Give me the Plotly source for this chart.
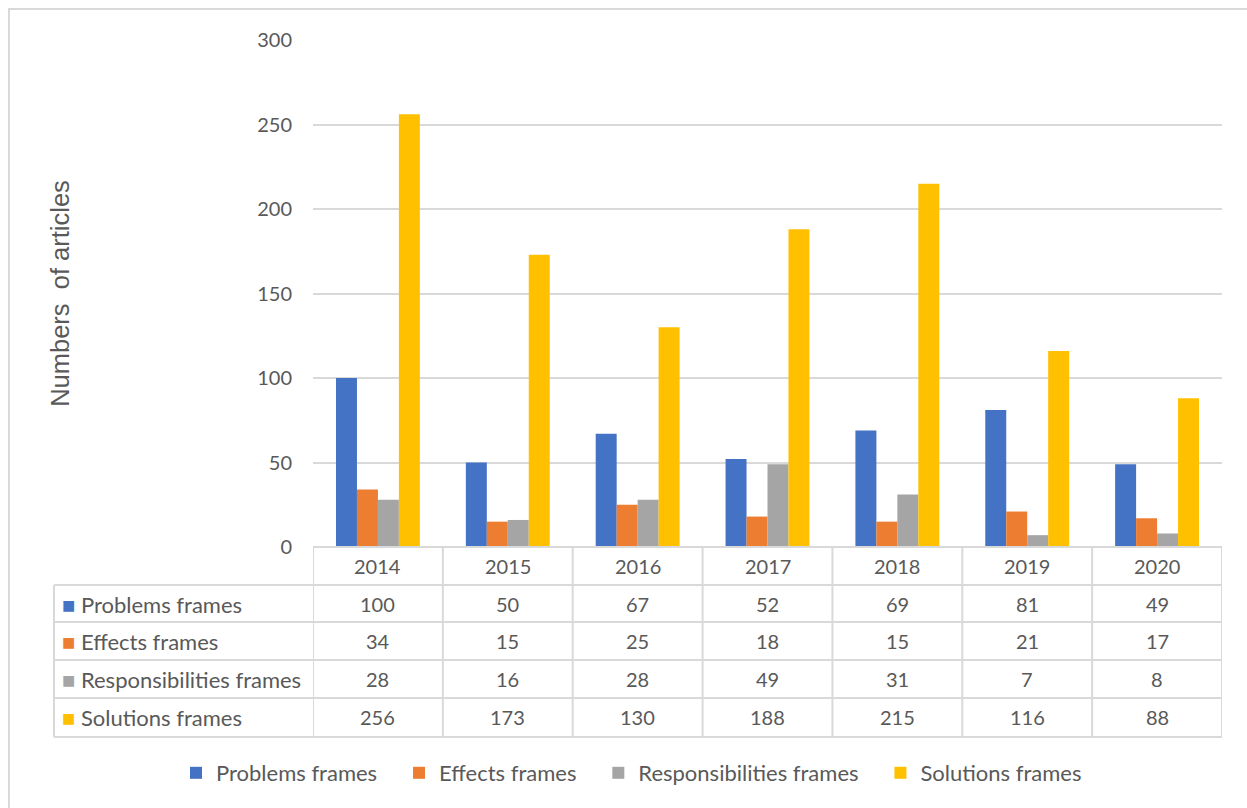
import plotly.graph_objects as go

years = ["2014", "2015", "2016", "2017", "2018", "2019", "2020"]
problems = [100, 50, 67, 52, 69, 81, 49]
effects = [34, 15, 25, 18, 15, 21, 17]
responsibilities = [28, 16, 28, 49, 31, 7, 8]
solutions = [256, 173, 130, 188, 215, 116, 88]

series_names = ["Problems frames", "Effects frames", "Responsibilities frames", "Solutions frames"]
series_values = [problems, effects, responsibilities, solutions]
colors = ["#4472C4", "#ED7D31", "#A5A5A5", "#FFC000"]

W, H = 1247, 808
ML, MR, MT, MB = 313, 25, 40, 261
PH = H - MT - MB
PW = W - ML - MR

def py(p):
    return (H - MB - p) / PH

def px(p):
    return (p - ML) / PW

GRID = "#d9d9d9"
TXT = "#595959"
FONT = "Lato"
NBSP = "\u00a0"

fig = go.Figure()
for name, vals, c in zip(series_names, series_values, colors):
    fig.add_trace(go.Bar(x=years, y=vals, name=name + NBSP * 3,
                         marker=dict(color=c, line=dict(width=0))))

shapes = []
annotations = []

# table horizontal lines
row_lines = [547, 585, 622, 660, 698, 737]
for i, yl in enumerate(row_lines):
    x0 = 0 if i == 0 else px(54)
    shapes.append(dict(type="line", xref="paper", yref="paper", x0=x0, x1=1, y0=py(yl), y1=py(yl),
                       line=dict(color=GRID, width=2)))
# vertical lines at category boundaries
for k in range(len(years) + 1):
    shapes.append(dict(type="line", xref="x", yref="paper", x0=k - 0.5, x1=k - 0.5,
                       y0=py(547), y1=py(737), line=dict(color=GRID, width=2)))
# left edge of table labels column
shapes.append(dict(type="line", xref="paper", yref="paper", x0=px(54), x1=px(54),
                   y0=py(585), y1=py(737), line=dict(color=GRID, width=2)))
# outer chart border (only top & left visible)
shapes.append(dict(type="rect", xref="paper", yref="paper", x0=px(9), x1=px(1265), y0=py(9), y1=py(830),
                   line=dict(color=GRID, width=2), fillcolor="rgba(0,0,0,0)", layer="below"))

# year row
for i, yr in enumerate(years):
    annotations.append(dict(x=i, y=py(566), xref="x", yref="paper", text=yr, showarrow=False,
                            xanchor="center", yanchor="middle",
                            font=dict(family=FONT, size=20, color=TXT)))
row_centers = [604, 641, 679, 717]
for name, vals, c, rc in zip(series_names, series_values, colors, row_centers):
    annotations.append(dict(x=px(60), y=py(rc), xref="paper", yref="paper", xanchor="left",
                            yanchor="middle",
                            text=f"<span style='color:{c};font-size:22px'>■</span> {name}", showarrow=False,
                            font=dict(family=FONT, size=22, color=TXT)))
    for i, v in enumerate(vals):
        annotations.append(dict(x=i, y=py(rc), xref="x", yref="paper", text=str(v), showarrow=False,
                                xanchor="center", yanchor="middle",
                                font=dict(family=FONT, size=20, color=TXT)))

fig.update_layout(
    width=W, height=H,
    margin=dict(l=ML, r=MR, t=MT, b=MB, autoexpand=False),
    paper_bgcolor="white", plot_bgcolor="white",
    barmode="group", bargap=0.354, bargroupgap=0,
    font=dict(family=FONT, color=TXT),
    xaxis=dict(type="category", range=[-0.5, 6.5], showticklabels=False, showgrid=False,
               zeroline=False, showline=False, ticks=""),
    yaxis=dict(range=[0, 300], dtick=50, showgrid=True, gridcolor=GRID, gridwidth=2,
               zeroline=False, showline=False, ticks="", ticklabelstandoff=20,
               tickfont=dict(family=FONT, size=20, color=TXT), automargin=False,
               title=dict(text="Numbers&nbsp; of articles", standoff=180,
                          font=dict(family="Liberation Sans", size=25.5, color=TXT))),
    legend=dict(orientation="h", x=px(176), xanchor="left", y=py(773), yanchor="middle",
                font=dict(family=FONT, size=22, color=TXT), itemwidth=30,
                bgcolor="rgba(0,0,0,0)"),
    shapes=shapes, annotations=annotations,
)

fig.write_html("out.html")
